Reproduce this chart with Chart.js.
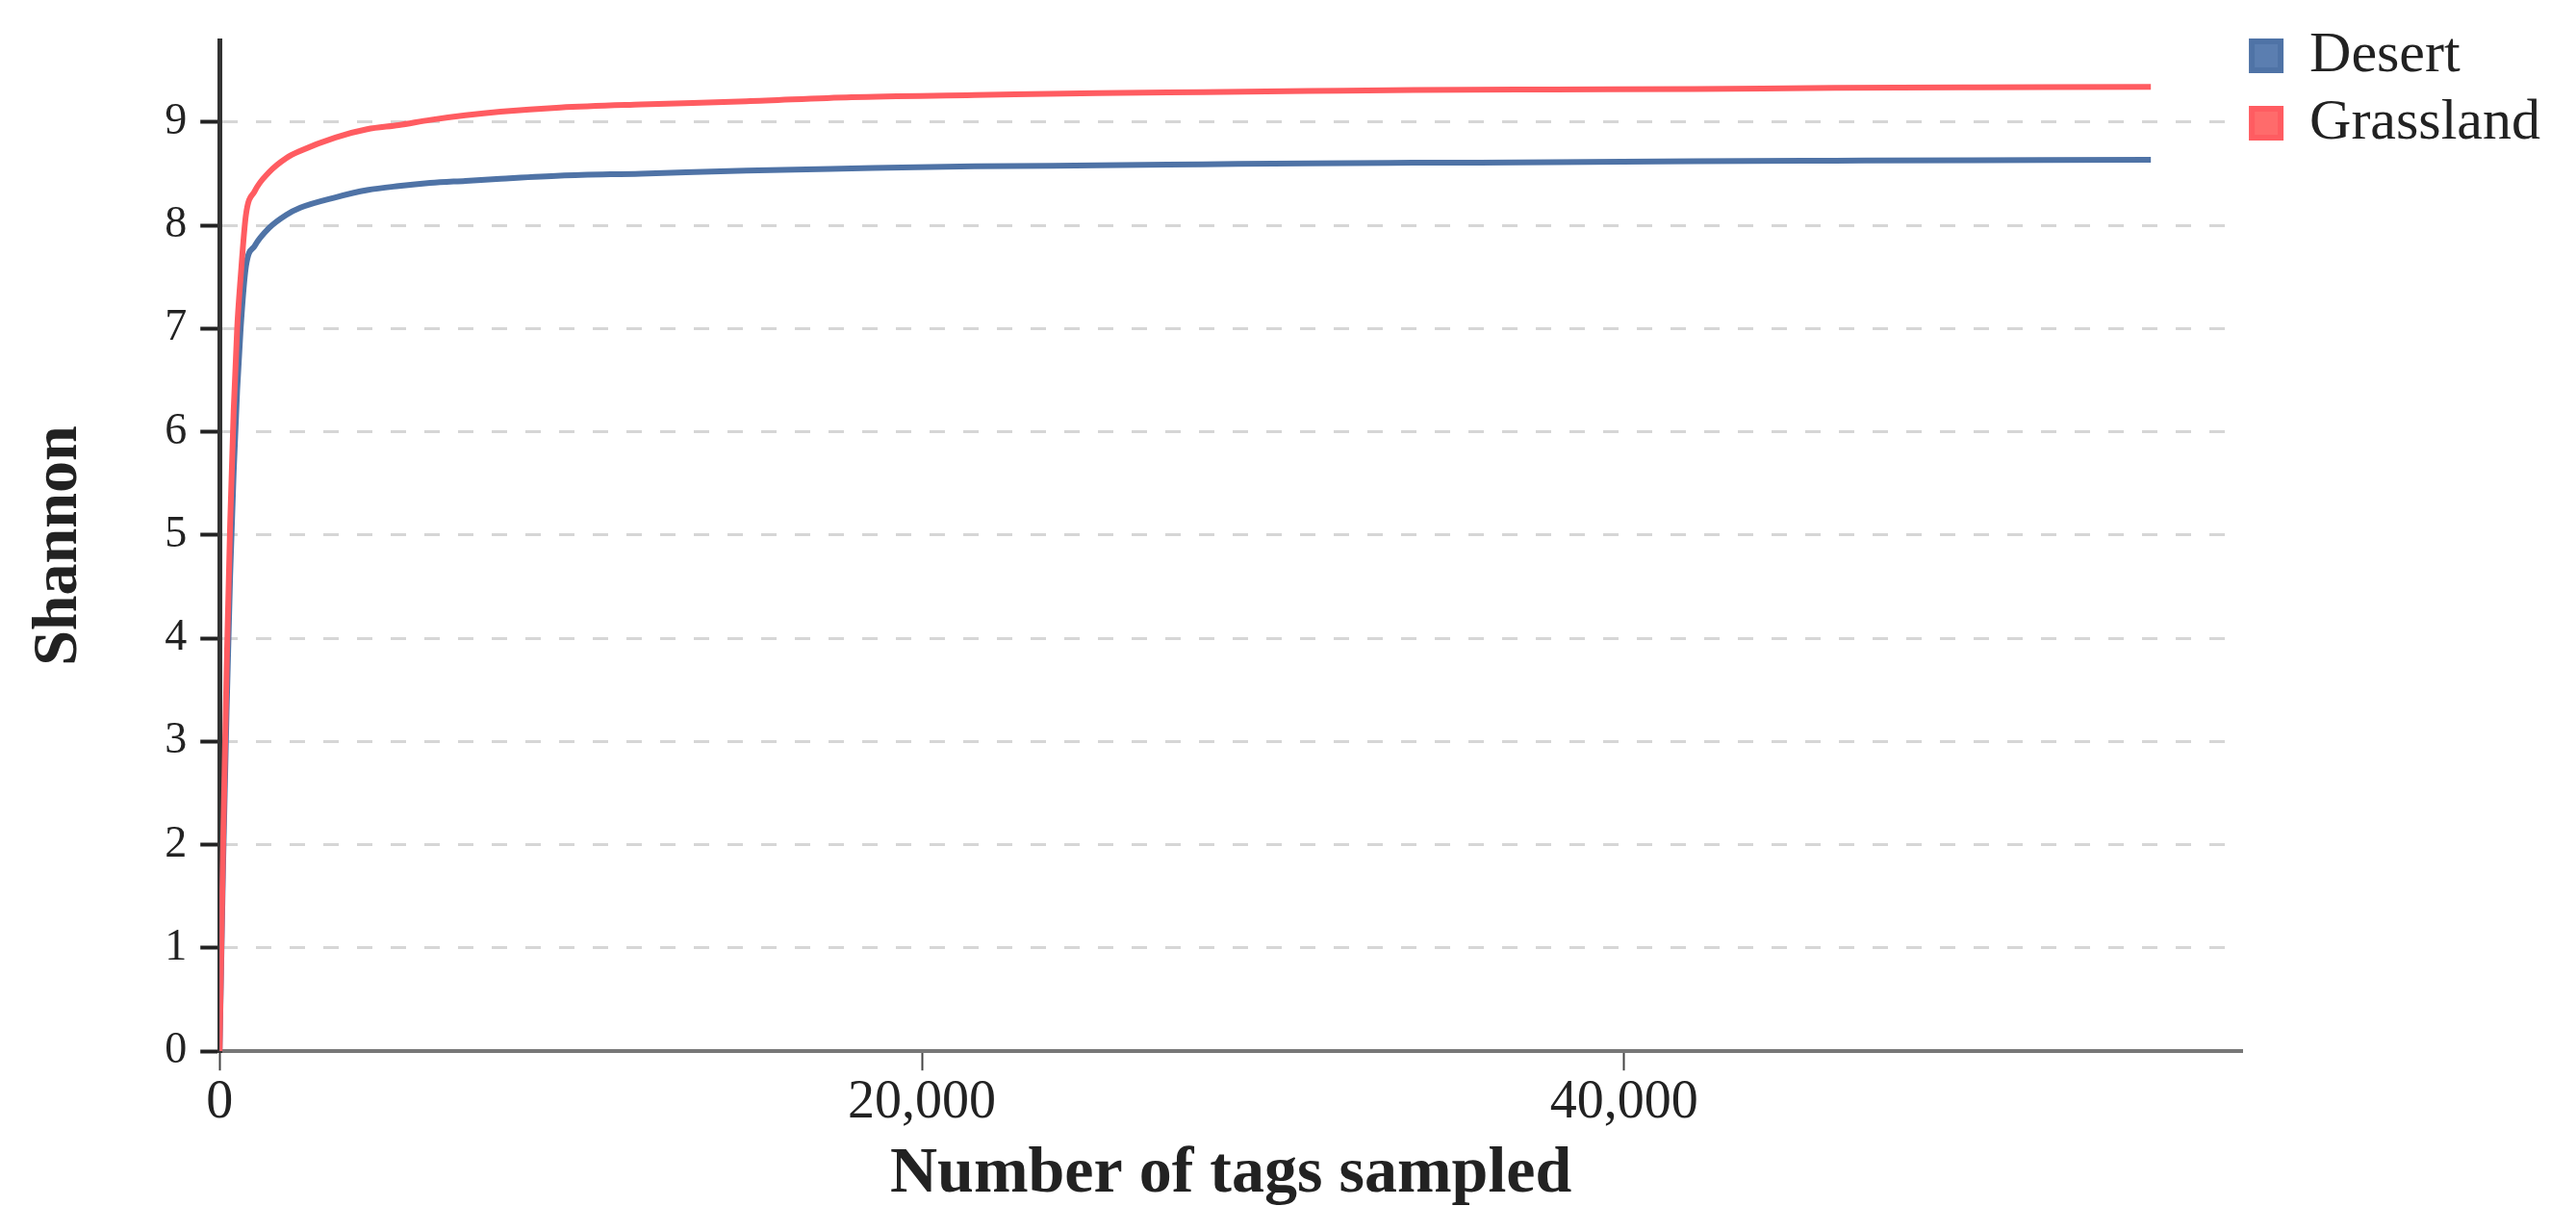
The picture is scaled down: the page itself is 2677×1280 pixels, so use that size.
<!DOCTYPE html>
<html>
<head>
<meta charset="utf-8">
<title>Shannon rarefaction curves</title>
<script src="https://cdn.jsdelivr.net/npm/chart.js@4.4.1/dist/chart.umd.min.js"></script>
<style>
    html, body { margin: 0; padding: 0; background: #fff; }
    canvas { display: block; }
</style>
</head>
<body>
<canvas id="shannonChart" width="2677" height="1280"></canvas>
<script>
// ===== DATA =====
const tagsSampled = [0, 50, 100, 200, 300, 400, 500, 600, 750, 1000, 1400, 1900, 2300, 3300, 4200, 5100, 6000,
    7000, 8000, 9700, 12000, 15000, 18000, 21500, 25000, 28000, 31000, 34000, 38000, 42000, 46000, 50000, 55000];

const desertShannon = [0, 0.9, 1.8, 3.3, 4.6, 5.6, 6.4, 7.0, 7.6, 7.8, 7.97, 8.1, 8.17, 8.27, 8.34, 8.38, 8.41,
    8.43, 8.45, 8.48, 8.5, 8.53, 8.55, 8.57, 8.58, 8.59, 8.6, 8.605, 8.61, 8.62, 8.625, 8.63, 8.635];

const grasslandShannon = [0, 1.0, 2.0, 3.7, 5.1, 6.2, 7.0, 7.5, 8.1, 8.33, 8.51, 8.65, 8.72, 8.85, 8.93, 8.97, 9.02,
    9.065, 9.1, 9.14, 9.17, 9.2, 9.24, 9.26, 9.28, 9.29, 9.3, 9.31, 9.315, 9.32, 9.33, 9.335, 9.34];

const seriesNames = ['Desert', 'Grassland'];
const xTickValues = [0, 20000, 40000];
const yTickValues = [0, 1, 2, 3, 4, 5, 6, 7, 8, 9];

const FONT = "'Liberation Serif', 'Times New Roman', serif";

// Build {x, y} points from the arrays
function toPoints(values) {
    return tagsSampled.map((x, i) => ({ x: x, y: values[i] }));
}

// Move the legend up a little (it sits above the plot top in the original)
const legendNudge = {
    id: 'legendNudge',
    afterLayout(chart) {
        if (chart.legend) chart.legend.top = 18;
    }
};

function createShannonChart() {
    const ctx = document.getElementById('shannonChart');
    if (!ctx || typeof Chart === 'undefined') {
        console.log('Chart.js not loaded');
        return;
    }

    new Chart(ctx, {
        type: 'line',
        data: {
            datasets: [
                {
                    label: seriesNames[0],
                    data: toPoints(desertShannon),
                    borderColor: '#4f73a6',
                    backgroundColor: '#5b7eb0',
                    borderWidth: 6,
                    pointRadius: 0,
                    cubicInterpolationMode: 'monotone',
                    order: 1
                },
                {
                    label: seriesNames[1],
                    data: toPoints(grasslandShannon),
                    borderColor: '#ff5c61',
                    backgroundColor: '#ff6b6b',
                    borderWidth: 6,
                    pointRadius: 0,
                    cubicInterpolationMode: 'monotone',
                    order: 0
                }
            ]
        },
        options: {
            responsive: false,
            animation: false,
            layout: {
                padding: { top: 42, right: 27, bottom: 19, left: 0 }
            },
            plugins: {
                legend: {
                    position: 'right',
                    align: 'start',
                    labels: {
                        boxWidth: 30,
                        boxHeight: 30,
                        padding: 10,
                        color: '#222',
                        font: { family: FONT, size: 60 },
                        sort: (a, b) => a.datasetIndex - b.datasetIndex
                    }
                },
                tooltip: { enabled: false }
            },
            scales: {
                x: {
                    type: 'linear',
                    min: 0,
                    max: 57600,
                    afterBuildTicks: (scale) => {
                        scale.ticks = xTickValues.map(v => ({ value: v }));
                    },
                    ticks: {
                        callback: (v) => Number(v).toLocaleString('en-US'),
                        color: '#222',
                        padding: 0,
                        maxRotation: 0,
                        font: { family: FONT, size: 56 }
                    },
                    grid: {
                        drawOnChartArea: false,
                        drawTicks: true,
                        tickLength: 20,
                        tickWidth: 2,
                        tickColor: '#444'
                    },
                    border: { display: true, color: '#777', width: 4 },
                    title: {
                        display: true,
                        text: 'Number of tags sampled',
                        color: '#222',
                        font: { family: FONT, size: 68, weight: 'bold' },
                        padding: { top: 0, bottom: 0 }
                    }
                },
                y: {
                    min: 0,
                    max: 9.79,
                    afterBuildTicks: (scale) => {
                        scale.ticks = yTickValues.map(v => ({ value: v }));
                    },
                    ticks: {
                        color: '#222',
                        padding: 14,
                        font: { family: FONT, size: 46 }
                    },
                    grid: {
                        color: '#d6d6d6',
                        lineWidth: 3,
                        tickColor: '#222',
                        tickWidth: 4,
                        tickLength: 20
                    },
                    border: { display: true, color: '#333', width: 5, dash: [16, 19] },
                    title: {
                        display: true,
                        text: 'Shannon',
                        color: '#222',
                        font: { family: FONT, size: 66, weight: 'bold' },
                        padding: { top: 22, bottom: 56 }
                    }
                }
            }
        },
        plugins: [legendNudge]
    });
}

document.addEventListener('DOMContentLoaded', function() {
    createShannonChart();
});
</script>
</body>
</html>
